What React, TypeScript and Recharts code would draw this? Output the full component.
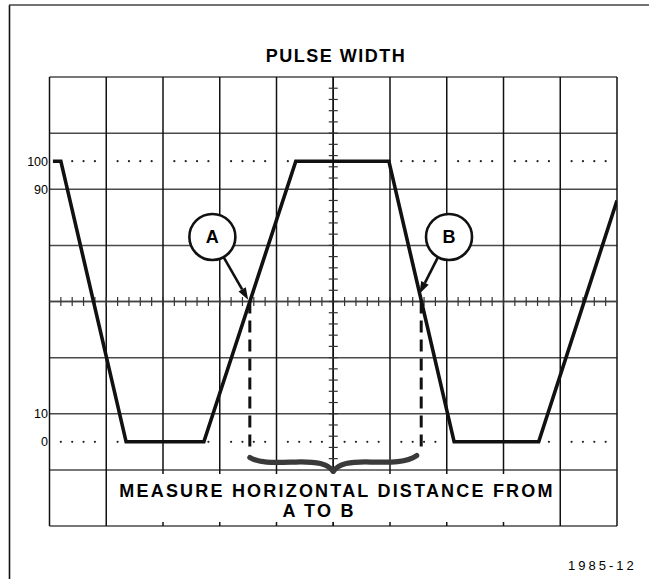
import React from 'react';
import {
  ComposedChart,
  Line,
  XAxis,
  YAxis,
  CartesianGrid,
  ReferenceLine,
  ReferenceDot,
} from 'recharts';

// ---- data (graticule divisions on x, percent of amplitude on y) ----
const traceX = [0.06, 0.2, 1.35, 2.72, 4.34, 5.98, 7.13, 8.62, 10.0];
const traceY = [100, 100, 0, 0, 100, 100, 0, 0, 86];
const gridX = [0, 1, 2, 3, 4, 5, 6, 7, 8, 9, 10];
const gridY = [-30, -10, 10, 30, 50, 70, 90, 110, 130];
const levelTicks = [0, 10, 90, 100];
const pointA = { x: 3.53, y: 50 };
const pointB = { x: 6.55, y: 50 };
const dashBottom = -2;
const markerA = { x: 2.87, y: 73, label: 'A' };
const markerB = { x: 7.04, y: 73, label: 'B' };
const arrowA = [{ x: 3.045, y: 66.6 }, { x: 3.5, y: 50.6 }];
const arrowB = [{ x: 6.85, y: 66.0 }, { x: 6.52, y: 52.8 }];
const braceX = [3.53, 6.47];
const braceY = -5.6;

const traceData = traceX.map((x, i) => ({ x, y: traceY[i] }));

const FONT = '"Liberation Sans", Arial, Helvetica, sans-serif';
const INK = '#111';

const Arrow = (p: any) => {
  const { x1, y1, x2, y2 } = p;
  const dx = x2 - x1;
  const dy = y2 - y1;
  const len = Math.hypot(dx, dy) || 1;
  const ux = dx / len;
  const uy = dy / len;
  const hl = 12;
  const hw = 4.2;
  const bx = x2 - ux * hl;
  const by = y2 - uy * hl;
  return (
    <g>
      <line x1={x1} y1={y1} x2={bx} y2={by} stroke={INK} strokeWidth={2.6} />
      <polygon
        points={`${x2},${y2} ${bx - uy * hw},${by + ux * hw} ${bx + uy * hw},${by - ux * hw}`}
        fill={INK}
      />
    </g>
  );
};

// center horizontal line with minor ticks every 0.2 division
const HCross = (p: any) => {
  const xa = Math.min(p.x1, p.x2);
  const xb = Math.max(p.x1, p.x2);
  const y = p.y1;
  const n = 50;
  const step = (xb - xa) / n;
  const ticks = [];
  for (let i = 1; i < n; i++) {
    const x = xa + i * step;
    ticks.push(<line key={i} x1={x} x2={x} y1={y - 4.5} y2={y + 4.5} stroke="#333" strokeWidth={1.2} />);
  }
  return (
    <g>
      <line x1={xa} x2={xb} y1={y} y2={y} stroke="#444" strokeWidth={1.6} />
      {ticks}
    </g>
  );
};

// center vertical line with minor ticks every 0.2 division
const VCross = (p: any) => {
  const ya = Math.min(p.y1, p.y2);
  const yb = Math.max(p.y1, p.y2);
  const x = p.x1;
  const n = 40;
  const step = (yb - ya) / n;
  const ticks = [];
  for (let i = 1; i < n; i++) {
    const y = ya + i * step;
    ticks.push(<line key={i} x1={x - 4.5} x2={x + 4.5} y1={y} y2={y} stroke="#333" strokeWidth={1.2} />);
  }
  return (
    <g>
      <line x1={x} x2={x} y1={ya} y2={yb} stroke={INK} strokeWidth={1.5} />
      {ticks}
    </g>
  );
};

// dotted reference level (0% / 100%) with dots every 0.2 division
const Dotted = (p: any) => {
  const xa = Math.min(p.x1, p.x2);
  const xb = Math.max(p.x1, p.x2);
  const y = p.y1;
  const n = 50;
  const step = (xb - xa) / n;
  const dots = [];
  for (let i = 1; i < n; i++) {
    if (i % 5 === 0) continue;
    dots.push(<circle key={i} cx={xa + i * step} cy={y} r={1.1} fill="#222" />);
  }
  return <g>{dots}</g>;
};

const Brace = (p: any) => {
  const xa = Math.min(p.x1, p.x2);
  const xb = Math.max(p.x1, p.x2);
  const y = p.y1;
  const xm = (xa + xb) / 2;
  const h = xm - xa;
  const d = 14;
  const path =
    `M ${xa},${y} C ${xa + 0.12 * h},${y + 6} ${xa + 0.3 * h},${y + 5} ${xa + 0.55 * h},${y + 4.5} ` +
    `C ${xm - 0.2 * h},${y + 4} ${xm - 0.06 * h},${y + 6} ${xm},${y + d} ` +
    `M ${xm},${y + d} C ${xm + 0.06 * h},${y + 6} ${xm + 0.2 * h},${y + 4} ${xb - 0.55 * h},${y + 4.5} ` +
    `C ${xb - 0.3 * h},${y + 5} ${xb - 0.12 * h},${y + 5} ${xb},${y - 2}`;
  return <path d={path} fill="none" stroke="#3a3a3a" strokeWidth={5.2} strokeLinecap="round" />;
};

export default function App() {
  return (
    <div style={{ position: 'absolute', left: 0, top: 0, width: 649, height: 579, background: '#fff' }}>
      <ComposedChart
        width={649}
        height={579}
        data={traceData}
        margin={{ top: 77, right: 32, bottom: 53, left: 0 }}
      >
        <XAxis
          type="number"
          dataKey="x"
          domain={[0, 10]}
          ticks={gridX}
          allowDataOverflow
          hide
        />
        <YAxis
          yAxisId="lbl"
          type="number"
          domain={[-30, 130]}
          ticks={levelTicks}
          interval={0}
          allowDataOverflow
          width={49.5}
          axisLine={false}
          tickLine={false}
          tickSize={0}
          tickMargin={1.5}
          tick={{ fontSize: 12.5, fill: '#000', fontFamily: FONT }}
        />
        <YAxis type="number" domain={[-30, 130]} ticks={gridY} allowDataOverflow width={0} hide />
        <CartesianGrid horizontal={true} vertical={false} stroke="#4a4a4a" strokeWidth={1.5} />
        <CartesianGrid horizontal={false} vertical={true} stroke={INK} strokeWidth={1.5} />

        <ReferenceLine y={50} shape={HCross} />
        <ReferenceLine x={5} shape={VCross} />
        <ReferenceLine y={0} shape={Dotted} />
        <ReferenceLine y={100} shape={Dotted} />

        <ReferenceLine
          segment={[{ x: pointA.x, y: pointA.y }, { x: pointA.x, y: dashBottom }]}
          stroke={INK}
          strokeWidth={3}
          strokeDasharray="12 7"
        />
        <ReferenceLine
          segment={[{ x: pointB.x, y: pointB.y }, { x: pointB.x, y: dashBottom }]}
          stroke={INK}
          strokeWidth={3}
          strokeDasharray="12 7"
        />
        <ReferenceLine
          segment={[{ x: braceX[0], y: braceY }, { x: braceX[1], y: braceY }]}
          shape={Brace}
        />

        <Line
          type="linear"
          dataKey="y"
          stroke={INK}
          strokeWidth={3.6}
          dot={false}
          activeDot={false}
          isAnimationActive={false}
        />

        <ReferenceLine segment={arrowA} shape={Arrow} />
        <ReferenceLine segment={arrowB} shape={Arrow} />

        <ReferenceDot
          x={markerA.x}
          y={markerA.y}
          r={23}
          fill="#fff"
          stroke={INK}
          strokeWidth={2.6}
          label={{ value: markerA.label, position: 'center', fontSize: 18, fontWeight: 'bold', fill: '#000', fontFamily: FONT }}
        />
        <ReferenceDot
          x={markerB.x}
          y={markerB.y}
          r={23}
          fill="#fff"
          stroke={INK}
          strokeWidth={2.6}
          label={{ value: markerB.label, position: 'center', fontSize: 18, fontWeight: 'bold', fill: '#000', fontFamily: FONT }}
        />
      </ComposedChart>

      <svg
        width={649}
        height={579}
        style={{ position: 'absolute', left: 0, top: 0, pointerEvents: 'none' }}
      >
        <line x1={9.5} y1={5} x2={9.5} y2={579} stroke={INK} strokeWidth={1.6} />
        <line x1={9} y1={5} x2={649} y2={5} stroke="#444" strokeWidth={1.4} />
        <rect x={108} y={474} width={451} height={48} fill="#fff" />
        <text x={336} y={62} textAnchor="middle" fontFamily={FONT} fontWeight="bold" fontSize={18} letterSpacing={1.5} fill="#000">
          PULSE WIDTH
        </text>
        <text x={337} y={497} textAnchor="middle" fontFamily={FONT} fontWeight="bold" fontSize={18} letterSpacing={2.2} fill="#000">
          MEASURE HORIZONTAL DISTANCE FROM
        </text>
        <text x={319} y={517} textAnchor="middle" fontFamily={FONT} fontWeight="bold" fontSize={18} letterSpacing={2.2} fill="#000">
          A TO B
        </text>
        <text x={568} y={569.5} textAnchor="start" fontFamily={FONT} fontSize={13} letterSpacing={3} fill="#000">
          1985-12
        </text>
      </svg>
    </div>
  );
}
